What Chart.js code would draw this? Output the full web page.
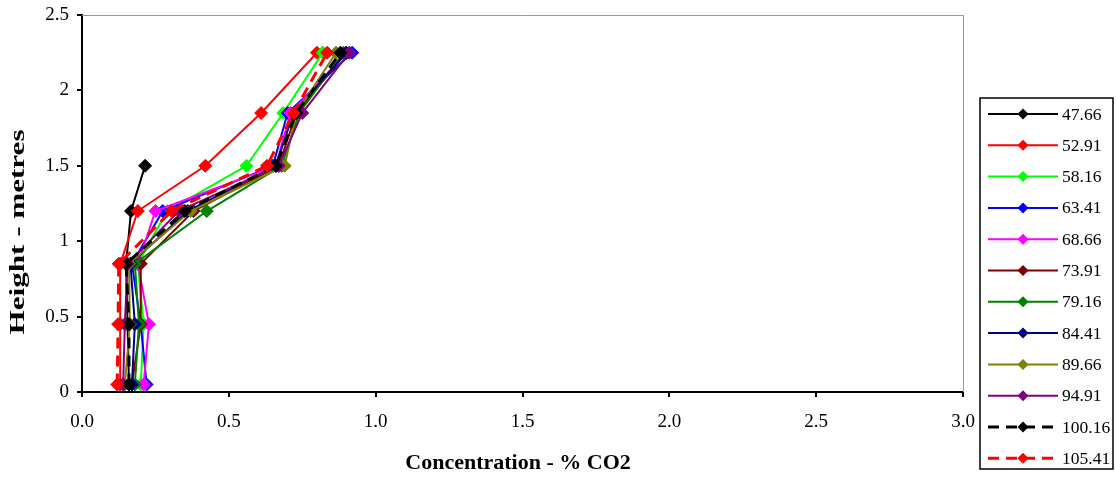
<!DOCTYPE html>
<html>
<head>
<meta charset="utf-8">
<script src="https://cdn.jsdelivr.net/npm/chart.js@4/dist/chart.umd.min.js"></script>
<style>
html,body{margin:0;padding:0;background:#fff;}
#wrap{width:1116px;height:479px;position:relative;}
</style>
</head>
<body>
<div id="wrap"><canvas id="c" width="1116" height="479"></canvas></div>
<script>
// Heights (metres) at which CO2 concentration was sampled
const heights = [0.05, 0.45, 0.85, 1.2, 1.5, 1.85, 2.25];
// Series labels (time)
const seriesLabels = ["47.66","52.91","58.16","63.41","68.66","73.91","79.16","84.41","89.66","94.91","100.16","105.41"];
// Concentration values (% CO2) per series, aligned with heights
const s4766  = [0.16, 0.155, 0.15, 0.167, 0.215, null, null];
const s5291  = [0.13, 0.13, 0.13, 0.19, 0.42, 0.61, 0.80];
const s5816  = [0.20, 0.21, 0.19, 0.29, 0.56, 0.685, 0.82];
const s6341  = [0.22, 0.20, 0.17, 0.275, 0.65, 0.70, 0.92];
const s6866  = [0.21, 0.228, 0.19, 0.25, 0.66, 0.71, 0.90];
const s7391  = [0.17, 0.20, 0.20, 0.38, 0.67, 0.73, 0.90];
const s7916  = [0.18, 0.194, 0.18, 0.425, 0.68, 0.74, 0.89];
const s8441  = [0.17, 0.18, 0.165, 0.36, 0.66, 0.72, 0.90];
const s8966  = [0.146, 0.163, 0.16, 0.37, 0.69, 0.73, 0.865];
const s9491  = [0.14, 0.146, 0.155, 0.33, 0.67, 0.75, 0.91];
const s10016 = [0.16, 0.16, 0.15, 0.35, 0.66, 0.73, 0.88];
const s10541 = [0.12, 0.123, 0.125, 0.305, 0.63, 0.72, 0.835];
const seriesValues = [s4766,s5291,s5816,s6341,s6866,s7391,s7916,s8441,s8966,s9491,s10016,s10541];
const colors = ["#000000","#FF0000","#00FF00","#0000FF","#FF00FF","#800000","#008000","#000080","#808000","#800080","#000000","#FF0000"];
const dashed = [false,false,false,false,false,false,false,false,false,false,true,true];
const xTicks = [0,0.5,1,1.5,2,2.5,3];
const yTicks = [0,0.5,1,1.5,2,2.5];
const xTitle = 'Concentration - % CO2';
const yTitle = 'Height - metres';

const FONT = "'Liberation Serif', 'Times New Roman', serif";

const datasets = seriesLabels.map((lab, i) => ({
  label: lab,
  data: heights.map((h, k) => seriesValues[i][k] == null ? null : {x: seriesValues[i][k], y: h}).filter(p => p),
  borderColor: colors[i],
  backgroundColor: colors[i],
  borderWidth: dashed[i] ? 3 : 2,
  borderDash: dashed[i] ? [11, 7] : [],
  pointStyle: 'rectRot',
  pointRadius: 6.5,
  pointBorderWidth: 1,
  pointBorderColor: colors[i],
  pointBackgroundColor: colors[i],
  tension: 0,
  order: -i
}));

const frame = {
  id: 'frame',
  afterDatasetsDraw(chart) {
    const {ctx, chartArea: a} = chart;
    ctx.save();
    ctx.strokeStyle = '#999999';
    ctx.lineWidth = 1;
    ctx.beginPath();
    ctx.moveTo(a.left, a.top + 0.5);
    ctx.lineTo(a.right + 0.5, a.top + 0.5);
    ctx.lineTo(a.right + 0.5, a.bottom);
    ctx.stroke();
    ctx.restore();
  },
  afterDraw(chart) {
    const ctx = chart.ctx;
    ctx.save();
    // axis titles
    ctx.fillStyle = '#000';
    ctx.font = "bold 22px " + FONT;
    ctx.textAlign = 'center';
    ctx.textBaseline = 'middle';
    ctx.fillText(xTitle, 518, 463);
    ctx.save();
    ctx.translate(18, 232);
    ctx.rotate(-Math.PI / 2);
    const w = ctx.measureText(yTitle).width;
    ctx.scale(205 / w, 1);
    ctx.fillText(yTitle, 0, 0);
    ctx.restore();
    // legend
    const bx = 980, by = 98, bw = 133, bh = 371;
    ctx.fillStyle = '#fff';
    ctx.fillRect(bx, by, bw, bh);
    ctx.strokeStyle = '#000';
    ctx.lineWidth = 1.5;
    ctx.strokeRect(bx, by, bw, bh);
    const ds = chart.data.datasets;
    ds.forEach((d, i) => {
      const y = 114 + i * 31.3;
      ctx.strokeStyle = d.borderColor;
      ctx.lineWidth = d.borderWidth;
      ctx.setLineDash(d.borderDash);
      ctx.beginPath();
      ctx.moveTo(988, y);
      ctx.lineTo(1058, y);
      ctx.stroke();
      ctx.setLineDash([]);
      ctx.fillStyle = d.backgroundColor;
      ctx.beginPath();
      ctx.moveTo(1023, y - 5.5);
      ctx.lineTo(1028.5, y);
      ctx.lineTo(1023, y + 5.5);
      ctx.lineTo(1017.5, y);
      ctx.closePath();
      ctx.fill();
      ctx.fillStyle = '#000';
      ctx.font = "17.5px " + FONT;
      ctx.textBaseline = 'middle';
      ctx.textAlign = 'left';
      ctx.fillText(d.label, 1062, y + 1);
    });
    ctx.restore();
  }
};

new Chart(document.getElementById('c'), {
  type: 'line',
  data: { datasets },
  options: {
    responsive: false,
    animation: false,
    layout: { padding: { top: 15, right: 153, left: 0, bottom: 0 } },
    plugins: { legend: { display: false }, tooltip: { enabled: false } },
    scales: {
      x: {
        type: 'linear',
        min: 0, max: 3,
        afterBuildTicks: s => { s.ticks = xTicks.map(v => ({value: v})); },
        afterFit: s => { s.height = 87; s.paddingLeft = 0; s.paddingRight = 0; },
        ticks: { color: '#000', font: { family: FONT, size: 19 }, padding: 14, maxRotation: 0,
                 callback: v => Number(v).toFixed(1) },
        grid: { display: true, drawOnChartArea: false, drawTicks: true, tickLength: 5, color: '#000', lineWidth: 2 },
        border: { display: true, color: '#000', width: 2 },
        title: { display: false }
      },
      y: {
        type: 'linear',
        min: 0, max: 2.5,
        afterBuildTicks: s => { s.ticks = yTicks.map(v => ({value: v})); },
        afterFit: s => { s.width = 82; s.paddingTop = 0; s.paddingBottom = 0; },
        ticks: { color: '#000', font: { family: FONT, size: 19 }, padding: 8,
                 callback: v => String(v) },
        grid: { display: true, drawOnChartArea: false, drawTicks: true, tickLength: 5, color: '#000', lineWidth: 2 },
        border: { display: true, color: '#000', width: 2 },
        title: { display: false }
      }
    }
  },
  plugins: [frame]
});
</script>
</body>
</html>
